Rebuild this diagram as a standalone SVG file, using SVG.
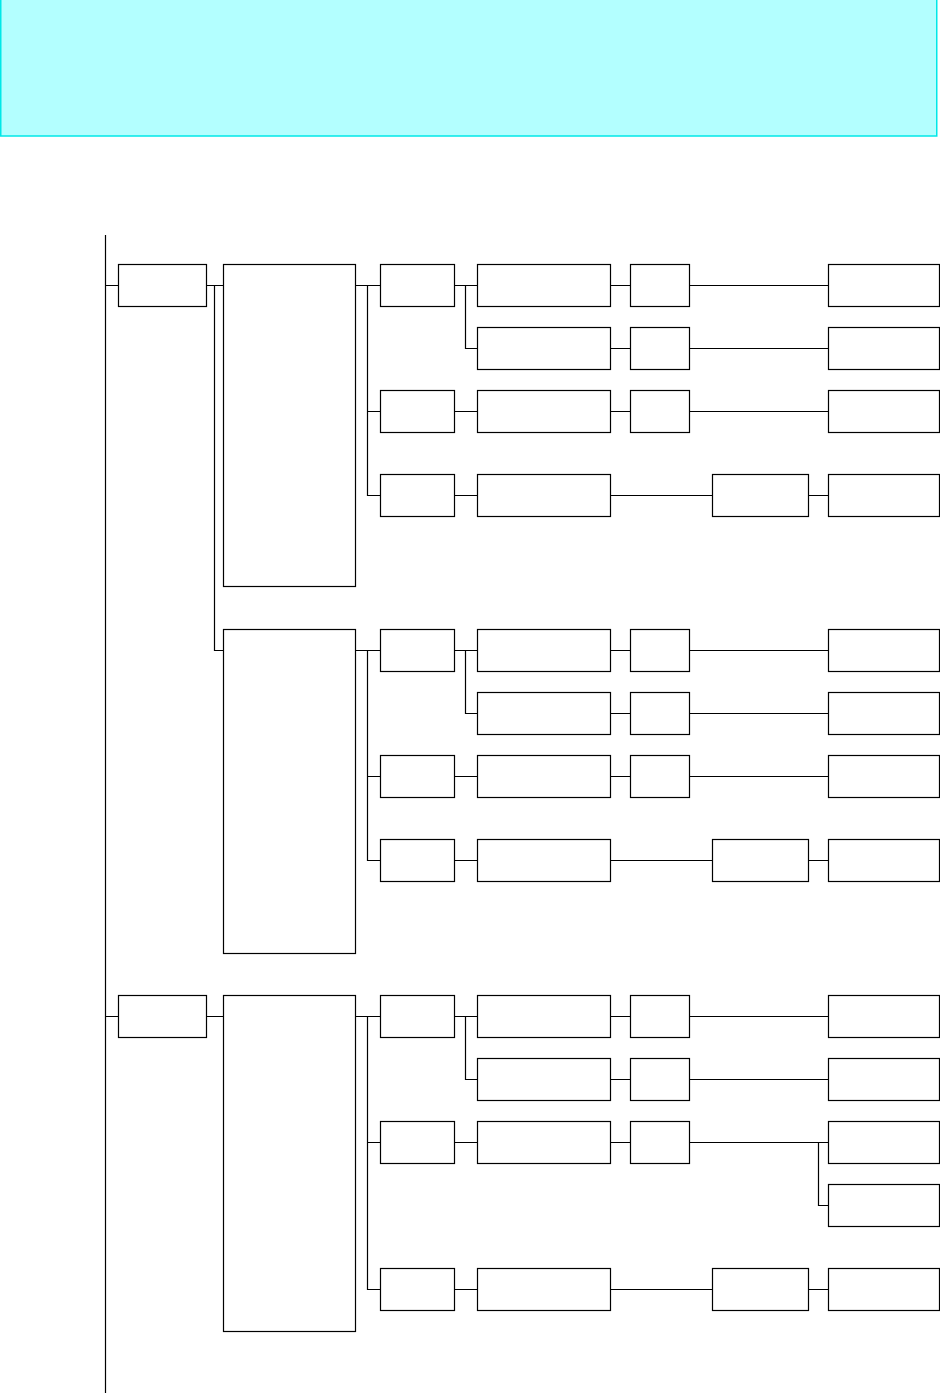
<svg xmlns="http://www.w3.org/2000/svg" width="940" height="1394" viewBox="0 0 940 1394">
<style>
.n{fill:#ffffff;stroke:#000000;stroke-width:1.2}
.c{fill:none;stroke:#000000;stroke-width:1.2}
.hdr{fill:#b3ffff;stroke:#00e8e8;stroke-width:1.5}
</style>
<rect width="940" height="1394" fill="#ffffff"/>
<g id="header"><rect class="hdr" x="0.75" y="-2" width="936" height="138"/></g>
<g id="connectors">
<path class="c" d="M105.5 235 V1393"/>
<path class="c" d="M105.5 285.5 H118.5 M206.5 285.5 H223.5 M214.5 285.5 V650.5 H223.5"/>
<path class="c" d="M355.5 285.5 H380.5 M367.5 285.5 V495.5 H380.5 M367.5 411.5 H380.5"/>
<path class="c" d="M454.5 285.5 H477.5 M465.5 285.5 V348.5 H477.5 M454.5 411.5 H477.5 M454.5 495.5 H477.5"/>
<path class="c" d="M610.5 285.5 H630.5 M689.5 285.5 H828.5 M610.5 348.5 H630.5 M689.5 348.5 H828.5 M610.5 411.5 H630.5 M689.5 411.5 H828.5 M610.5 495.5 H712.5 M808.5 495.5 H828.5"/>
<path class="c" d="M355.5 650.5 H380.5 M367.5 650.5 V860.5 H380.5 M367.5 776.5 H380.5"/>
<path class="c" d="M454.5 650.5 H477.5 M465.5 650.5 V713.5 H477.5 M454.5 776.5 H477.5 M454.5 860.5 H477.5"/>
<path class="c" d="M610.5 650.5 H630.5 M689.5 650.5 H828.5 M610.5 713.5 H630.5 M689.5 713.5 H828.5 M610.5 776.5 H630.5 M689.5 776.5 H828.5 M610.5 860.5 H712.5 M808.5 860.5 H828.5"/>
<path class="c" d="M105.5 1016.5 H118.5 M206.5 1016.5 H223.5"/>
<path class="c" d="M355.5 1016.5 H380.5 M367.5 1016.5 V1289.5 H380.5 M367.5 1142.5 H380.5"/>
<path class="c" d="M454.5 1016.5 H477.5 M465.5 1016.5 V1079.5 H477.5 M454.5 1142.5 H477.5 M454.5 1289.5 H477.5"/>
<path class="c" d="M610.5 1016.5 H630.5 M689.5 1016.5 H828.5 M610.5 1079.5 H630.5 M689.5 1079.5 H828.5 M610.5 1142.5 H630.5 M689.5 1142.5 H828.5 M818.5 1142.5 V1205.5 H828.5 M610.5 1289.5 H712.5 M808.5 1289.5 H828.5"/>
</g>
<!-- group 1 -->
<g id="a1"><rect class="n" x="118.5" y="264.5" width="88" height="42"/></g>
<g id="b1"><rect class="n" x="223.5" y="264.5" width="132" height="322"/></g>
<g id="c1a"><rect class="n" x="380.5" y="264.5" width="74" height="42"/></g>
<g id="d1a"><rect class="n" x="477.5" y="264.5" width="133" height="42"/></g>
<g id="e1a"><rect class="n" x="630.5" y="264.5" width="59" height="42"/></g>
<g id="f1a"><rect class="n" x="828.5" y="264.5" width="111" height="42"/></g>
<g id="d1b"><rect class="n" x="477.5" y="327.5" width="133" height="42"/></g>
<g id="e1b"><rect class="n" x="630.5" y="327.5" width="59" height="42"/></g>
<g id="f1b"><rect class="n" x="828.5" y="327.5" width="111" height="42"/></g>
<g id="c1c"><rect class="n" x="380.5" y="390.5" width="74" height="42"/></g>
<g id="d1c"><rect class="n" x="477.5" y="390.5" width="133" height="42"/></g>
<g id="e1c"><rect class="n" x="630.5" y="390.5" width="59" height="42"/></g>
<g id="f1c"><rect class="n" x="828.5" y="390.5" width="111" height="42"/></g>
<g id="c1d"><rect class="n" x="380.5" y="474.5" width="74" height="42"/></g>
<g id="d1d"><rect class="n" x="477.5" y="474.5" width="133" height="42"/></g>
<g id="g1d"><rect class="n" x="712.5" y="474.5" width="96" height="42"/></g>
<g id="f1d"><rect class="n" x="828.5" y="474.5" width="111" height="42"/></g>
<!-- group 2 -->
<g id="b2"><rect class="n" x="223.5" y="629.5" width="132" height="324"/></g>
<g id="c2a"><rect class="n" x="380.5" y="629.5" width="74" height="42"/></g>
<g id="d2a"><rect class="n" x="477.5" y="629.5" width="133" height="42"/></g>
<g id="e2a"><rect class="n" x="630.5" y="629.5" width="59" height="42"/></g>
<g id="f2a"><rect class="n" x="828.5" y="629.5" width="111" height="42"/></g>
<g id="d2b"><rect class="n" x="477.5" y="692.5" width="133" height="42"/></g>
<g id="e2b"><rect class="n" x="630.5" y="692.5" width="59" height="42"/></g>
<g id="f2b"><rect class="n" x="828.5" y="692.5" width="111" height="42"/></g>
<g id="c2c"><rect class="n" x="380.5" y="755.5" width="74" height="42"/></g>
<g id="d2c"><rect class="n" x="477.5" y="755.5" width="133" height="42"/></g>
<g id="e2c"><rect class="n" x="630.5" y="755.5" width="59" height="42"/></g>
<g id="f2c"><rect class="n" x="828.5" y="755.5" width="111" height="42"/></g>
<g id="c2d"><rect class="n" x="380.5" y="839.5" width="74" height="42"/></g>
<g id="d2d"><rect class="n" x="477.5" y="839.5" width="133" height="42"/></g>
<g id="g2d"><rect class="n" x="712.5" y="839.5" width="96" height="42"/></g>
<g id="f2d"><rect class="n" x="828.5" y="839.5" width="111" height="42"/></g>
<!-- group 3 -->
<g id="a2"><rect class="n" x="118.5" y="995.5" width="88" height="42"/></g>
<g id="b3"><rect class="n" x="223.5" y="995.5" width="132" height="336"/></g>
<g id="c3a"><rect class="n" x="380.5" y="995.5" width="74" height="42"/></g>
<g id="d3a"><rect class="n" x="477.5" y="995.5" width="133" height="42"/></g>
<g id="e3a"><rect class="n" x="630.5" y="995.5" width="59" height="42"/></g>
<g id="f3a"><rect class="n" x="828.5" y="995.5" width="111" height="42"/></g>
<g id="d3b"><rect class="n" x="477.5" y="1058.5" width="133" height="42"/></g>
<g id="e3b"><rect class="n" x="630.5" y="1058.5" width="59" height="42"/></g>
<g id="f3b"><rect class="n" x="828.5" y="1058.5" width="111" height="42"/></g>
<g id="c3c"><rect class="n" x="380.5" y="1121.5" width="74" height="42"/></g>
<g id="d3c"><rect class="n" x="477.5" y="1121.5" width="133" height="42"/></g>
<g id="e3c"><rect class="n" x="630.5" y="1121.5" width="59" height="42"/></g>
<g id="f3c"><rect class="n" x="828.5" y="1121.5" width="111" height="42"/></g>
<g id="f3c2"><rect class="n" x="828.5" y="1184.5" width="111" height="42"/></g>
<g id="c3d"><rect class="n" x="380.5" y="1268.5" width="74" height="42"/></g>
<g id="d3d"><rect class="n" x="477.5" y="1268.5" width="133" height="42"/></g>
<g id="g3d"><rect class="n" x="712.5" y="1268.5" width="96" height="42"/></g>
<g id="f3d"><rect class="n" x="828.5" y="1268.5" width="111" height="42"/></g>
</svg>
